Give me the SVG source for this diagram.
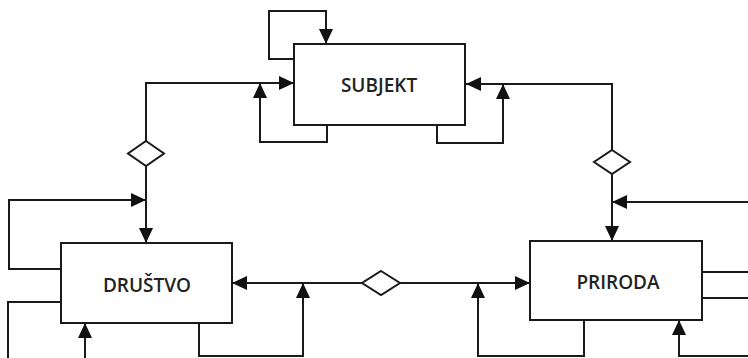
<svg xmlns="http://www.w3.org/2000/svg" width="748" height="358" viewBox="0 0 748 358">
<style>
.box{fill:#fff;stroke:#1a1a1a;stroke-width:2}
.lbl{font-family:"Open Sans","Noto Sans",sans-serif;font-weight:600;font-size:19px;fill:#222;text-anchor:middle;dominant-baseline:central}
.c path,.c line{fill:none;stroke:#1a1a1a;stroke-width:2}
.d{fill:#fff;stroke:#1a1a1a;stroke-width:1.8}
</style>
<defs>
<marker id="a" markerUnits="userSpaceOnUse" markerWidth="16" markerHeight="14" viewBox="0 0 16 14" refX="15" refY="7" orient="auto">
<path d="M0,0 L15,7 L0,14 Z" fill="#111"/>
</marker>
</defs>
<g class="c" id="connectors">
<path d="M294,59 H269 V11 H326 V44" marker-end="url(#a)"/>
<path d="M146,141 V83 H294" marker-end="url(#a)"/>
<path d="M146,166 V243" marker-end="url(#a)"/>
<path d="M327,125 V142 H260 V83" marker-end="url(#a)"/>
<path d="M612,150 V84 H466" marker-end="url(#a)"/>
<path d="M612,174 V241" marker-end="url(#a)"/>
<path d="M437,125 V143 H503 V84" marker-end="url(#a)"/>
<path d="M748,202 H612" marker-end="url(#a)"/>
<path d="M61,269 H9 V200 H146" marker-end="url(#a)"/>
<path d="M61,302 H8 V358"/>
<path d="M85,358 V323" marker-end="url(#a)"/>
<path d="M362,283 H232" marker-end="url(#a)"/>
<path d="M400,283 H530" marker-end="url(#a)"/>
<path d="M199,323 V356 H303 V283" marker-end="url(#a)"/>
<path d="M584,320 V356 H478 V283" marker-end="url(#a)"/>
<path d="M702,272 H748"/>
<path d="M702,298 H748"/>
<path d="M748,356 H679 V320" marker-end="url(#a)"/>
<path class="d" d="M146,141 L164,153.5 L146,166 L128,153.5 Z"/>
<path class="d" d="M612,150 L630,162 L612,174 L594,162 Z"/>
<path class="d" d="M381,271 L400,283 L381,295 L362,283 Z"/>
</g>
<g id="subjekt"><rect class="box" x="294" y="44" width="171" height="81"/><text class="lbl" x="379" y="85">SUBJEKT</text></g>
<g id="drustvo"><rect class="box" x="61" y="243" width="171" height="80"/><text class="lbl" x="147" y="285">DRUŠTVO</text></g>
<g id="priroda"><rect class="box" x="530" y="241" width="172" height="79"/><text class="lbl" x="618" y="282">PRIRODA</text></g>
</svg>
